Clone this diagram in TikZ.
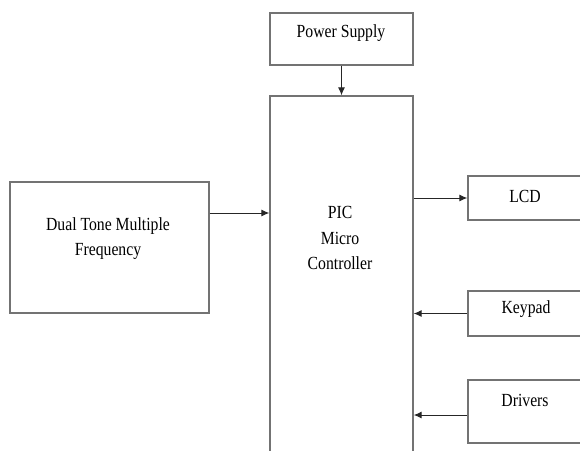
\documentclass[tikz,border=0pt]{standalone}
\usepackage{fontspec}
\setmainfont{Liberation Serif}[FakeStretch=0.85]
\usetikzlibrary{arrows.meta}
\begin{document}
\begin{tikzpicture}%
	[x=1pt, y=-1pt,
	block/.style={draw=black!55, line width=1.4pt, inner sep=0pt},
	blocktext/.style={inner sep=0pt, align=center, font=\fontsize{18.5}{25.5}\selectfont},
	link/.style={draw=black!85, line width=1pt, -{Latex[length=8pt,width=7pt]}}]
%
%% Page frame:
%%
\useasboundingbox (0,0) rectangle (580,450);
\clip (0,0) rectangle (580,450);
%%
%% Blocks:
%%
\node[block, minimum width=143pt, minimum height=52pt]  (power)   at (341.5,39)    {};
\node[block, minimum width=143pt, minimum height=374pt] (pic)     at (341.5,283)   {};
\node[block, minimum width=199pt, minimum height=131pt] (dtmf)    at (109.5,247.5) {};
\node[block, minimum width=132pt, minimum height=44pt]  (lcd)     at (534,198)     {};
\node[block, minimum width=132pt, minimum height=45pt]  (keypad)  at (534,313.5)   {};
\node[block, minimum width=132pt, minimum height=63pt]  (drivers) at (534,411.5)   {};
%%
%% Texts:
%%
\node[blocktext] (powertext)   at (341,33)    {Power Supply};
\node[blocktext] (pictext)     at (340,238)   {PIC\\Micro\\Controller};
\node[blocktext, font=\fontsize{18.5}{24.5}\selectfont] (dtmftext) at (108,238.5) {Dual Tone Multiple\\Frequency};
\node[blocktext] (lcdtext)     at (525,196)   {LCD};
\node[blocktext] (keypadtext)  at (526,309.5) {Keypad};
\node[blocktext] (driverstext) at (525,400.5) {Drivers};
%%
%% Links:
%%
\coordinate (dtmfout)   at ([yshift=34.5pt]dtmf.east);
\coordinate (driversin) at ([yshift=-3.5pt]drivers.west);
\draw[link] (power.south) -- (pic.north);
\draw[link] (dtmfout) -- (dtmfout -| pic.west);
\draw[link] (lcd.west -| pic.east) -- (lcd.west);
\draw[link] (keypad.west) -- (keypad.west -| pic.east);
\draw[link] (driversin) -- (driversin -| pic.east);
%%
\end{tikzpicture}
\end{document}
